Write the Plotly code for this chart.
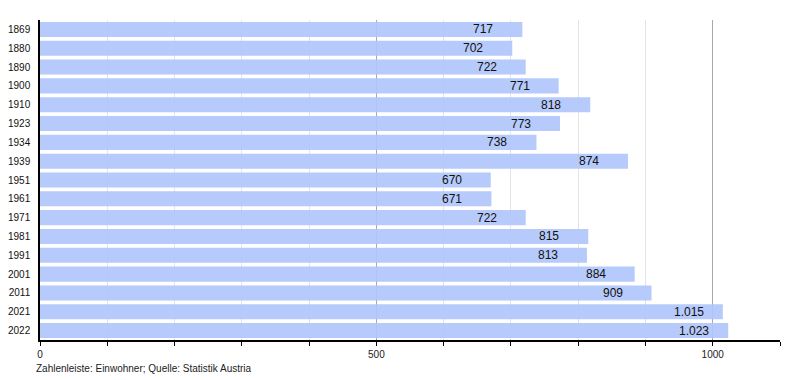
import plotly.graph_objects as go

years = ["1869", "1880", "1890", "1900", "1910", "1923", "1934", "1939", "1951",
         "1961", "1971", "1981", "1991", "2001", "2011", "2021", "2022"]
population = [717, 702, 722, 771, 818, 773, 738, 874, 670, 671, 722, 815, 813,
              884, 909, 1015, 1023]
x_ticks = [0, 500, 1000]
caption = "Zahlenleiste: Einwohner; Quelle: Statistik Austria"

fig = go.Figure()
fig.add_trace(go.Bar(
    x=population, y=years, orientation="h",
    marker=dict(color="#b0c6fb", line=dict(width=0)),
    opacity=0.92,
    hoverinfo="skip",
))

for i, v in enumerate(population):
    label = f"{v:,}".replace(",", ".")
    fig.add_annotation(x=v, y=i, xref="x", yref="y", text=label, showarrow=False,
                       xanchor="left", xshift=-51,
                       font=dict(family="Liberation Sans, Arial", size=12, color="#111"))

fig.add_annotation(x=0, y=0, xref="paper", yref="paper", text=caption,
                   showarrow=False, xanchor="left", yanchor="middle",
                   xshift=-6, yshift=-28,
                   font=dict(family="Liberation Sans, Arial", size=10, color="#222"))

# page body has an 8px default margin, so the figure is sized to fit the window
fig.update_layout(
    width=792, height=372,
    margin=dict(l=32, r=20, t=12, b=40, autoexpand=False),
    paper_bgcolor="white", plot_bgcolor="white",
    bargap=0.2,
    showlegend=False,
    font=dict(family="Liberation Sans, Arial", size=10, color="#222"),
)
fig.update_xaxes(
    range=[0, 1100], tickvals=x_ticks, ticktext=[str(t) for t in x_ticks],
    showline=True, linecolor="#000", linewidth=1.5,
    ticks="outside", ticklen=4, tickcolor="#000",
    showgrid=True, gridcolor="#a8a8a8", gridwidth=1,
    minor=dict(dtick=100, tick0=0, ticks="outside", ticklen=4, tickcolor="#000",
               showgrid=True, gridcolor="#e4e4e4", gridwidth=1),
    zeroline=False, fixedrange=True, automargin=False,
    tickfont=dict(size=10, color="#222"),
)
fig.update_yaxes(
    type="category", categoryorder="array", categoryarray=years,
    range=[len(years) - 0.5, -0.5],
    showline=True, linecolor="#000", linewidth=1.5,
    ticks="", ticklabelstandoff=6, automargin=False,
    showgrid=False, zeroline=False,
    tickfont=dict(size=10, color="#111"),
)

fig.write_html("out.html")
